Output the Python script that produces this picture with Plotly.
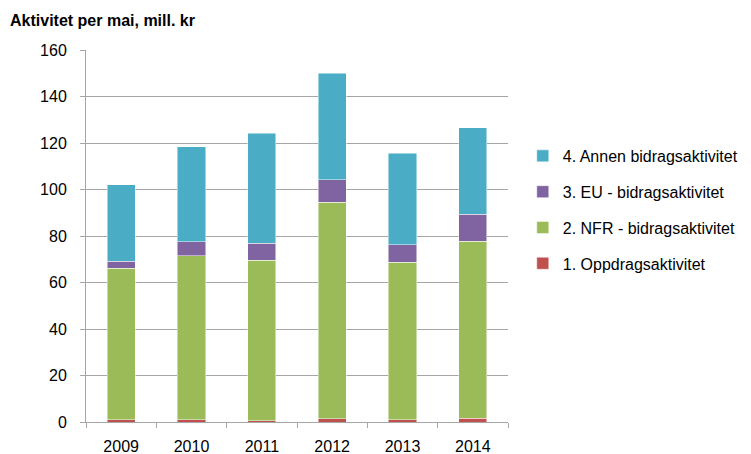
import plotly.graph_objects as go

years = ["2009", "2010", "2011", "2012", "2013", "2014"]
oppdrag = [0.9, 0.9, 0.5, 1.4, 0.9, 1.7]
nfr = [65.2, 70.5, 69.0, 93.2, 67.9, 76.1]
eu = [3.1, 6.2, 7.3, 9.5, 7.5, 11.5]
annen = [32.8, 40.7, 47.5, 46.0, 39.4, 37.2]

series = [
    ("1. Oppdragsaktivitet", oppdrag, "#C0504D", 4),
    ("2. NFR - bidragsaktivitet", nfr, "#9BBB59", 3),
    ("3. EU - bidragsaktivitet", eu, "#8064A2", 2),
    ("4. Annen bidragsaktivitet", annen, "#4BACC6", 1),
]

fig = go.Figure()
for name, vals, col, rank in series:
    fig.add_trace(go.Bar(
        x=years, y=vals, name=name, legendgroup=name, legendrank=rank,
        marker=dict(color=col, line=dict(color="rgba(255,255,255,0.6)", width=0.8)),
    ))

font = "Liberation Sans"
fs = 16
# page body has an 8px margin, so the figure is offset; compensate
fig.update_layout(
    barmode="stack",
    bargap=0.6,
    width=743, height=446,
    margin=dict(l=78, r=243, t=42, b=32, autoexpand=False),
    plot_bgcolor="white", paper_bgcolor="white",
    font=dict(family=font, size=fs, color="#000000"),
    showlegend=True,
    legend=dict(
        traceorder="grouped", tracegroupgap=12,
        x=1.035, xanchor="left", y=0.57, yanchor="middle",
        font=dict(family=font, size=fs, color="#000000"),
        itemwidth=30,
    ),
    annotations=[dict(
        text="<b>Aktivitet per mai, mill. kr</b>", xref="paper", yref="paper",
        x=-78/422, xanchor="left", y=1 + 30/372, yanchor="middle",
        showarrow=False, font=dict(family=font, size=fs, color="#000000"),
    )],
)
fig.update_yaxes(
    range=[0, 160], dtick=20, showgrid=True, gridcolor="#A6A6A6", gridwidth=1,
    showline=True, linecolor="#A6A6A6", linewidth=1,
    ticks="outside", ticklen=5, tickcolor="#A6A6A6", ticklabelstandoff=10,
    tickfont=dict(family=font, size=fs, color="#000000"), zeroline=False,
    automargin=False,
)
fig.update_xaxes(
    showline=True, linecolor="#A6A6A6", linewidth=1,
    ticks="outside", ticklen=5, tickcolor="#A6A6A6", tickson="boundaries",
    ticklabelstandoff=10,
    tickfont=dict(family=font, size=fs, color="#000000"), automargin=False,
)
fig.write_html("out.html")
